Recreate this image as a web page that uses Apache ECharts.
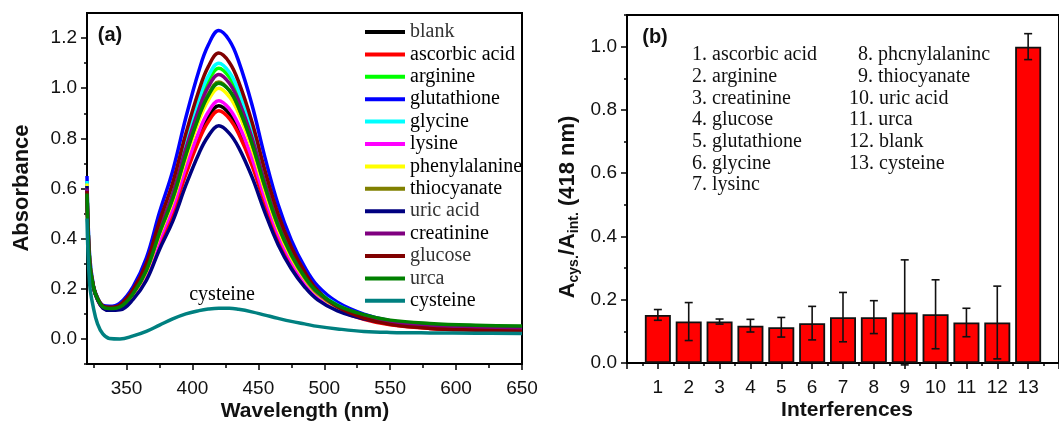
<!DOCTYPE html>
<html><head><meta charset="utf-8">
<script src="https://cdn.jsdelivr.net/npm/echarts@6/dist/echarts.min.js"></script>
<style>html,body{margin:0;padding:0;background:#fff}#c{width:1059px;height:423px}</style>
</head><body><div id="c"></div>
<script>
// ---------- panel (a) data ----------
const wavelengths = [320, 322, 325, 328, 332, 337, 345, 355, 365, 375, 385, 395, 405, 412, 420, 428, 435, 445, 455, 465, 475, 485, 495, 510, 530, 550, 580, 615, 650];
const seriesNames = ['blank','ascorbic acid','arginine','glutathione','glycine','lysine','phenylalanine','thiocyanate','uric acid','creatinine','glucose','urca','cysteine'];
const seriesColors = ['#000000','#ff0000','#00ff00','#0000ff','#00ffff','#ff00ff','#ffff00','#808000','#000080','#800080','#800000','#008000','#008080'];
const darkLegend = [false,true,true,true,true,true,true,true,false,true,false,false,true];
const blank = [0.60, 0.311, 0.204, 0.158, 0.126, 0.117, 0.122, 0.169, 0.252, 0.388, 0.511, 0.670, 0.811, 0.885, 0.93, 0.898, 0.836, 0.709, 0.550, 0.410, 0.304, 0.225, 0.168, 0.119, 0.084, 0.065, 0.052, 0.046, 0.044];
const ascorbicAcid = [0.60, 0.310, 0.204, 0.157, 0.125, 0.116, 0.120, 0.166, 0.247, 0.380, 0.501, 0.656, 0.793, 0.866, 0.91, 0.879, 0.818, 0.694, 0.539, 0.401, 0.298, 0.221, 0.165, 0.117, 0.078, 0.056, 0.042, 0.036, 0.033];
const arginine = [0.60, 0.312, 0.206, 0.161, 0.130, 0.123, 0.132, 0.189, 0.287, 0.447, 0.591, 0.776, 0.941, 1.029, 1.08, 1.044, 0.972, 0.823, 0.637, 0.473, 0.349, 0.256, 0.189, 0.133, 0.092, 0.069, 0.054, 0.047, 0.044];
const glutathione = [0.65, 0.33, 0.209, 0.164, 0.134, 0.130, 0.143, 0.209, 0.322, 0.505, 0.670, 0.883, 1.072, 1.172, 1.23, 1.191, 1.108, 0.937, 0.724, 0.536, 0.394, 0.288, 0.211, 0.146, 0.099, 0.073, 0.057, 0.048, 0.045];
const glycine = [0.63, 0.32, 0.207, 0.161, 0.130, 0.124, 0.134, 0.192, 0.292, 0.455, 0.602, 0.791, 0.959, 1.048, 1.10, 1.064, 0.990, 0.838, 0.649, 0.481, 0.355, 0.261, 0.192, 0.135, 0.093, 0.069, 0.055, 0.047, 0.044];
const lysine = [0.60, 0.311, 0.204, 0.158, 0.126, 0.118, 0.123, 0.172, 0.257, 0.396, 0.522, 0.684, 0.828, 0.905, 0.95, 0.918, 0.855, 0.724, 0.562, 0.418, 0.310, 0.229, 0.171, 0.121, 0.085, 0.065, 0.052, 0.046, 0.044];
const phenylalanine = [0.62, 0.315, 0.205, 0.159, 0.128, 0.120, 0.127, 0.178, 0.268, 0.416, 0.549, 0.720, 0.872, 0.952, 1.00, 0.966, 0.900, 0.762, 0.591, 0.439, 0.325, 0.240, 0.178, 0.126, 0.088, 0.067, 0.053, 0.047, 0.044];
const thiocyanate = [0.61, 0.31, 0.206, 0.160, 0.128, 0.121, 0.128, 0.182, 0.274, 0.425, 0.562, 0.737, 0.893, 0.976, 1.025, 0.991, 0.922, 0.781, 0.606, 0.450, 0.333, 0.245, 0.181, 0.128, 0.089, 0.067, 0.054, 0.047, 0.044];
const uricAcid = [0.61, 0.31, 0.203, 0.156, 0.123, 0.114, 0.116, 0.158, 0.233, 0.357, 0.469, 0.613, 0.741, 0.809, 0.85, 0.820, 0.764, 0.648, 0.504, 0.376, 0.280, 0.208, 0.156, 0.112, 0.080, 0.062, 0.051, 0.046, 0.043];
const creatinine = [0.60, 0.31, 0.206, 0.160, 0.129, 0.122, 0.130, 0.186, 0.281, 0.437, 0.578, 0.759, 0.919, 1.005, 1.055, 1.020, 0.950, 0.804, 0.623, 0.462, 0.342, 0.251, 0.186, 0.130, 0.090, 0.066, 0.050, 0.043, 0.040];
const glucose = [0.59, 0.30, 0.207, 0.162, 0.132, 0.126, 0.136, 0.197, 0.301, 0.470, 0.623, 0.819, 0.993, 1.086, 1.14, 1.103, 1.026, 0.868, 0.672, 0.498, 0.367, 0.269, 0.193, 0.128, 0.083, 0.058, 0.042, 0.035, 0.031];
const urca = [0.58, 0.30, 0.206, 0.159, 0.128, 0.121, 0.128, 0.181, 0.273, 0.423, 0.559, 0.734, 0.889, 0.971, 1.02, 0.991, 0.923, 0.782, 0.608, 0.452, 0.336, 0.249, 0.187, 0.134, 0.097, 0.075, 0.062, 0.055, 0.052];
const cysteine = [0.48, 0.22, 0.12, 0.06, 0.02, 0.002, 0.0, 0.012, 0.03, 0.055, 0.08, 0.10, 0.113, 0.119, 0.122, 0.122, 0.118, 0.108, 0.095, 0.082, 0.07, 0.06, 0.05, 0.04, 0.03, 0.026, 0.024, 0.023, 0.022];
const spectra = [blank, ascorbicAcid, arginine, glutathione, glycine, lysine, phenylalanine, thiocyanate, uricAcid, creatinine, glucose, urca, cysteine];
const xTickLabelsA = [350, 400, 450, 500, 550, 600, 650];
const xMinorTicksA = [325, 375, 425, 475, 525, 575, 625];
const yTickLabelsA = [0.0, 0.2, 0.4, 0.6, 0.8, 1.0, 1.2];
const yMinorTicksA = [-0.1, 0.1, 0.3, 0.5, 0.7, 0.9, 1.1];

// ---------- panel (b) data ----------
const interferenceNumbers = [1, 2, 3, 4, 5, 6, 7, 8, 9, 10, 11, 12, 13];
const ratioValues = [0.152, 0.131, 0.131, 0.118, 0.113, 0.126, 0.145, 0.145, 0.160, 0.154, 0.128, 0.128, 1.0];
const ratioErrors = [0.017, 0.060, 0.008, 0.020, 0.031, 0.053, 0.078, 0.052, 0.166, 0.109, 0.045, 0.115, 0.041];
const yTickLabelsB = [0.0, 0.2, 0.4, 0.6, 0.8, 1.0];
const yMinorTicksB = [0.1, 0.3, 0.5, 0.7, 0.9, 1.1];
const xMajorTicksB = [0, 1, 2, 3, 4, 5, 6, 7, 8, 9, 10, 11, 12, 13, 14];
const xMinorTicksB = [0.5, 1.5, 2.5, 3.5, 4.5, 5.5, 6.5, 7.5, 8.5, 9.5, 10.5, 11.5, 12.5, 13.5];
const listCol1 = ['1. ascorbic acid', '2. arginine', '3. creatinine', '4. glucose', '5. glutathione', '6. glycine', '7. lysinc'];
const listCol2 = ['8. phcnylalaninc', '9. thiocyanate', '10. uric acid', '11. urca', '12. blank', '13. cysteine'];

const SANS = 'Liberation Sans, Arial, sans-serif';
const SERIF = 'Liberation Serif, Times New Roman, serif';
const AX = {color: '#000', width: 2};

function axisX(gridIndex, min, max, labels, ticks, tickLen, showLine) {
  return {
    type: 'value', gridIndex, min, max, position: 'bottom',
    axisLine: {show: showLine, onZero: false, lineStyle: AX},
    axisTick: {show: true, customValues: ticks, length: tickLen, lineStyle: {color: '#000', width: 1.5}},
    axisLabel: labels ? {show: true, customValues: labels, margin: 15, fontSize: 19, fontFamily: SANS, color: '#111'} : {show: false},
    splitLine: {show: false}
  };
}
function axisY(gridIndex, min, max, labels, ticks, tickLen, showLine) {
  return {
    type: 'value', gridIndex, min, max, position: 'left',
    axisLine: {show: showLine, onZero: false, lineStyle: AX},
    axisTick: {show: true, customValues: ticks, length: tickLen, lineStyle: {color: '#000', width: 1.5}},
    axisLabel: labels ? {show: true, customValues: labels, margin: 10, fontSize: 19, fontFamily: SANS, color: '#111', formatter: v => Number(v).toFixed(1)} : {show: false},
    splitLine: {show: false}
  };
}

const lineSeries = seriesNames.map((name, i) => ({
  name, type: 'line', xAxisIndex: 0, yAxisIndex: 0,
  data: wavelengths.map((w, j) => [w, spectra[i][j]]),
  showSymbol: false, smooth: 0.4,
  lineStyle: {color: seriesColors[i], width: 3.5},
  itemStyle: {color: seriesColors[i]},
  z: 2
}));

const barSeries = {
  type: 'bar', xAxisIndex: 2, yAxisIndex: 2, barWidth: 26,
  data: interferenceNumbers.map((n, i) => [n, ratioValues[i]]),
  itemStyle: {color: '#ff0000', borderColor: '#111', borderWidth: 1.8},
  z: 2
};
const errorSeries = {
  type: 'custom', xAxisIndex: 2, yAxisIndex: 2,
  data: interferenceNumbers.map((n, i) => [n, ratioValues[i] - ratioErrors[i], ratioValues[i] + ratioErrors[i]]),
  encode: {x: 0, y: [1, 2]},
  z: 5,
  renderItem: (params, api) => {
    const x = api.value(0);
    const lo = api.coord([x, api.value(1)]);
    const hi = api.coord([x, api.value(2)]);
    const w = 4;
    const st = {stroke: '#111', lineWidth: 1.6};
    return {type: 'group', children: [
      {type: 'line', shape: {x1: hi[0], y1: hi[1], x2: lo[0], y2: lo[1]}, style: st},
      {type: 'line', shape: {x1: hi[0] - w, y1: hi[1], x2: hi[0] + w, y2: hi[1]}, style: st},
      {type: 'line', shape: {x1: lo[0] - w, y1: lo[1], x2: lo[0] + w, y2: lo[1]}, style: st}
    ]};
  }
};

const graphics = [
  {type: 'text', x: 110, y: 35, style: {text: '(a)', fontSize: 20, fontWeight: 'bold', fontFamily: SANS, fill: '#111', align: 'center', verticalAlign: 'middle'}},
  {type: 'text', x: 655, y: 37, style: {text: '(b)', fontSize: 20, fontWeight: 'bold', fontFamily: SANS, fill: '#111', align: 'center', verticalAlign: 'middle'}},
  {type: 'text', x: 222, y: 295, style: {text: 'cysteine', fontSize: 20, fontFamily: SERIF, fill: '#000', align: 'center', verticalAlign: 'middle'}},
  {type: 'text', x: 22, y: 188, rotation: Math.PI / 2, style: {text: 'Absorbance', fontSize: 22, fontWeight: 'bold', fontFamily: SANS, fill: '#111', align: 'center', verticalAlign: 'middle'}},
  {type: 'text', x: 305, y: 411, style: {text: 'Wavelength (nm)', fontSize: 21, fontWeight: 'bold', fontFamily: SANS, fill: '#111', align: 'center', verticalAlign: 'middle'}},
  {type: 'text', x: 847, y: 410, style: {text: 'Interferences', fontSize: 21, fontWeight: 'bold', fontFamily: SANS, fill: '#111', align: 'center', verticalAlign: 'middle'}},
  {type: 'text', x: 568, y: 207, rotation: Math.PI / 2, style: {
    text: '{m|A}{s|cys.}{m|/A}{s|int.}{m| (418 nm)}', align: 'center', verticalAlign: 'middle', fill: '#111',
    rich: {
      m: {fontSize: 22, fontWeight: 'bold', fontFamily: SANS, fill: '#111', lineHeight: 27, verticalAlign: 'middle'},
      s: {fontSize: 14, fontWeight: 'bold', fontFamily: SANS, fill: '#111', verticalAlign: 'bottom'}
    }
  }}
];
listCol1.forEach((t, i) => graphics.push({type: 'text', x: 692, y: 55 + 21.7 * i, style: {text: t, fontSize: 20, fontFamily: SERIF, fill: '#111', align: 'left', verticalAlign: 'middle'}}));
listCol2.forEach((t, i) => graphics.push({type: 'text', x: i < 2 ? 858 : 849, y: 55 + 21.7 * i, style: {text: t, fontSize: 20, fontFamily: SERIF, fill: '#111', align: 'left', verticalAlign: 'middle'}}));

const chart = echarts.init(document.getElementById('c'), null, {renderer: 'canvas'});
chart.setOption({
  animation: false,
  backgroundColor: '#fff',
  grid: [
    {left: 87, top: 13, width: 435, height: 351, show: true, borderColor: '#000', borderWidth: 2, backgroundColor: 'transparent'},
    {left: 627, top: 15, width: 442, height: 348, show: true, borderColor: '#000', borderWidth: 2, backgroundColor: 'transparent'}
  ],
  xAxis: [
    axisX(0, 320, 650, xTickLabelsA, xTickLabelsA, 6, true),
    axisX(0, 320, 650, null, xMinorTicksA, 4, false),
    axisX(1, 0, 14, interferenceNumbers, xMajorTicksB, 6, true),
    axisX(1, 0, 14, null, xMinorTicksB, 3, false)
  ],
  yAxis: [
    axisY(0, -0.1, 1.3, yTickLabelsA, yTickLabelsA, 6, true),
    axisY(0, -0.1, 1.3, null, yMinorTicksA, 3, false),
    axisY(1, 0, 1.1, yTickLabelsB, yTickLabelsB, 6, true),
    axisY(1, 0, 1.1, null, yMinorTicksB, 3, false)
  ],
  legend: {
    left: 360, top: 17, orient: 'vertical', icon: 'rect', itemWidth: 40, itemHeight: 4, itemGap: 2.4,
    textStyle: {fontFamily: SERIF, fontSize: 20, color: '#111', lineHeight: 18},
    data: seriesNames.map((n, i) => ({name: n, textStyle: {color: darkLegend[i] ? '#000' : '#333'}}))
  },
  series: [...lineSeries, barSeries, errorSeries],
  graphic: graphics
});
</script></body></html>
